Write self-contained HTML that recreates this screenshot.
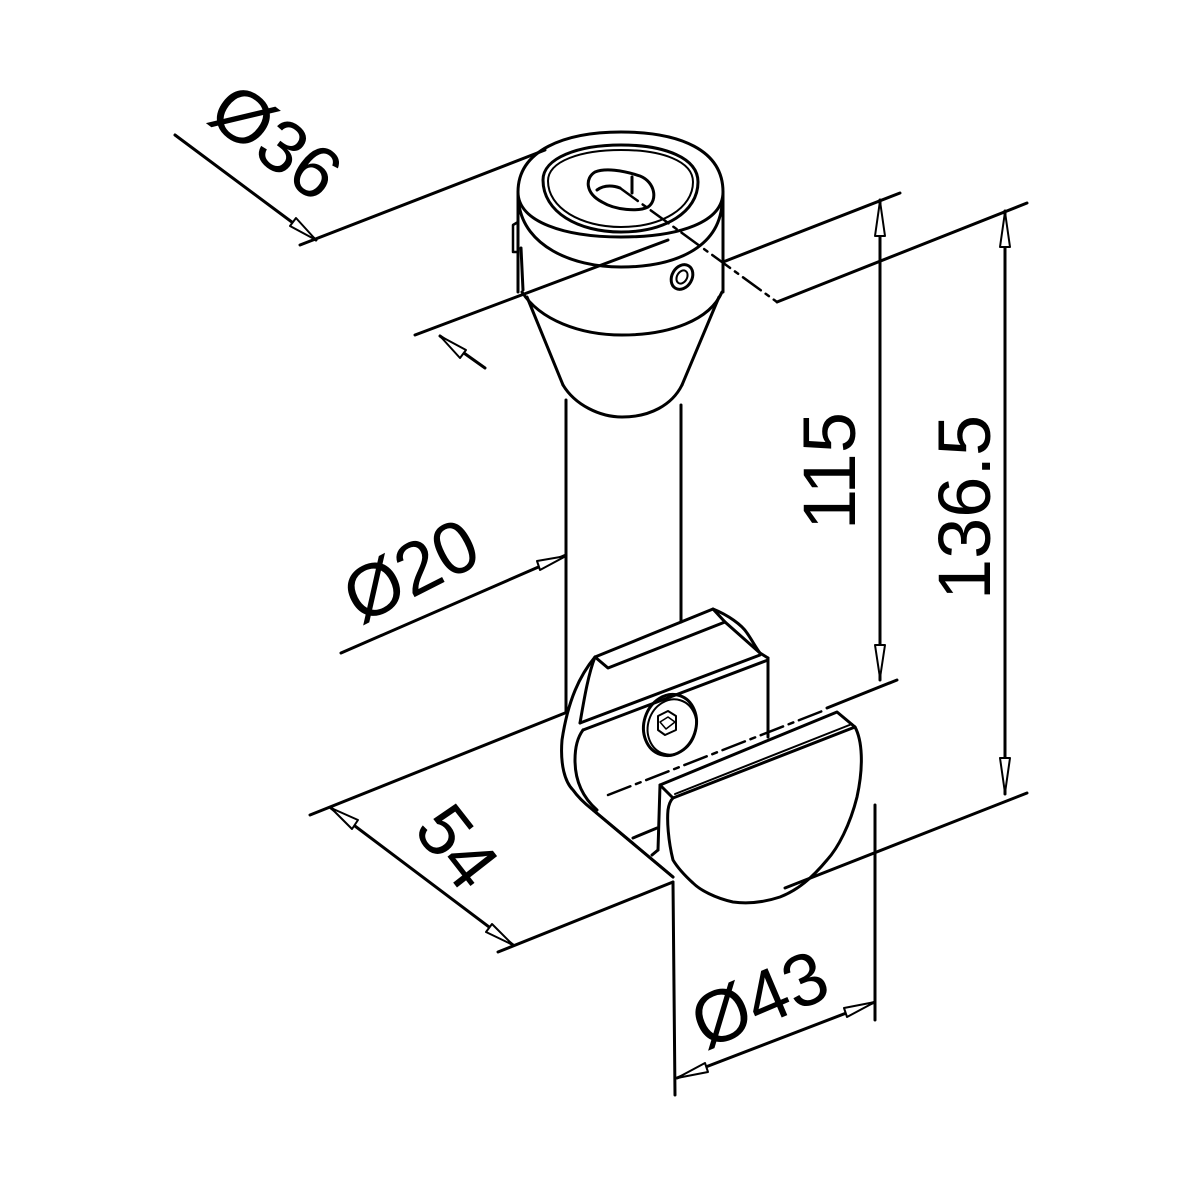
<!DOCTYPE html>
<html><head><meta charset="utf-8"><style>
html,body{margin:0;padding:0;background:#fff;}
svg{display:block;}
text{font-family:"DejaVu Sans ExtraLight","Liberation Sans",sans-serif;font-size:74px;fill:#000;stroke:none;}
</style></head><body>
<svg width="1200" height="1200" viewBox="0 0 1200 1200" xmlns="http://www.w3.org/2000/svg">
<g fill="none" stroke="#000" stroke-width="3" stroke-linejoin="round" stroke-linecap="round">
<!-- Ø36 dimension -->
<line x1="175" y1="135" x2="316" y2="240"/>
<line x1="300" y1="245" x2="545" y2="150"/>
<polygon points="316,240 290,226 296,218" fill="#fff" stroke-width="2"/>
<line x1="415" y1="335" x2="668" y2="240"/>
<line x1="440" y1="336" x2="485" y2="368"/>
<polygon points="440,336 466,350 460,358" fill="#fff" stroke-width="2"/>
<text transform="translate(205,120) rotate(37)">Ø36</text>

<!-- top cap -->
<path d="M518,192 C518,150 565,132 621,132 C680,132 723,150 723,192 C723,222 680,237 621,237 C565,237 518,222 518,192 Z"/>
<path d="M519,205 C525,245 570,267 621,267 C675,267 718,248 722,205"/>
<path d="M543,180 C543,158 578,145 621,145 C665,145 698,158 698,182 C698,212 665,232 621,232 C578,232 543,212 543,180 Z"/>
<path d="M548,181 C548,161 581,150 621,150 C662,150 693,161 693,182 C693,208 662,227 621,227 C581,227 548,208 548,181 Z" stroke-width="2"/>
<path d="M595,172 C605,168 622,170 640,176 C655,182 658,200 648,207 C638,212 615,210 602,202 C585,193 585,178 595,172 Z"/>
<path d="M597,190 C605,184 615,186 620,188"/>
<line x1="632" y1="177" x2="632" y2="193"/>
<line x1="518" y1="192" x2="518" y2="292"/>
<line x1="723" y1="192" x2="723" y2="292"/>
<path d="M513,225 L518,222 L518,252 L513,252 Z" stroke-width="2.5"/>
<line x1="521" y1="248" x2="523" y2="290"/>
<ellipse cx="682" cy="277" rx="10" ry="13" transform="rotate(30 682 277)"/>
<ellipse cx="682" cy="277" rx="5" ry="7" transform="rotate(30 682 277)" stroke-width="2"/>
<path d="M522,292 C540,320 580,335 622,335 C670,335 710,320 722,292"/>
<!-- cone -->
<path d="M527,297 L563,385"/>
<path d="M719,297 L682,385"/>
<path d="M563,385 C575,405 600,417 622,417 C650,417 672,405 682,385"/>
<!-- rod -->
<line x1="566" y1="400" x2="566" y2="712"/>
<line x1="681" y1="405" x2="681" y2="622"/>

<!-- centerline dashed -->
<path d="M620,188 L777,302" stroke-dasharray="22,6,4,6" stroke-width="2.5"/>
<!-- 115 / 136.5 extensions -->
<line x1="777" y1="302" x2="1027" y2="203"/>
<line x1="723" y1="262" x2="900" y2="193"/>
<line x1="880" y1="200" x2="880" y2="680"/>
<polygon points="880,201 875,236 885,236" fill="#fff" stroke-width="2"/>
<polygon points="880,678 875,645 885,645" fill="#fff" stroke-width="2"/>
<line x1="1005" y1="211" x2="1005" y2="794"/>
<polygon points="1005,212 1000,247 1010,247" fill="#fff" stroke-width="2"/>
<polygon points="1005,793 1000,758 1010,758" fill="#fff" stroke-width="2"/>
<line x1="897" y1="680" x2="827" y2="708"/>
<line x1="1027" y1="793" x2="785" y2="888"/>
<text transform="translate(855,530) rotate(-90)">115</text>
<text transform="translate(990,600) rotate(-90)">136.5</text>

<!-- Ø20 -->
<line x1="341" y1="653" x2="566" y2="555"/>
<polygon points="566,556 540,570 537,561" fill="#fff" stroke-width="2"/>
<text transform="translate(360,625) rotate(-27)">Ø20</text>

<!-- back clamp -->
<path d="M595,657 L713,609 L725,622 L608,668 Z"/>
<path d="M713,609 C728,615 742,625 747,633 C752,640 756,648 760,653 L768,658"/>
<path d="M725,622 L760,653"/>
<path d="M595,657 C588,675 584,700 580,723"/>
<line x1="580" y1="723" x2="760" y2="655"/>
<line x1="583" y1="730" x2="768" y2="660"/>
<path d="M595,657 C580,675 568,700 562,740 C560,765 565,782 573,790 C580,800 588,806 593,810 L673,877"/>
<path d="M583,730 C577,738 575,750 575,760 C575,777 580,795 597,810"/>
<line x1="768" y1="658" x2="768" y2="737"/>
<ellipse cx="670" cy="725" rx="26" ry="31" transform="rotate(18 670 725)"/>
<ellipse cx="672" cy="727" rx="24" ry="28" transform="rotate(18 672 727)" stroke-width="2"/>
<polygon points="658,716 668,711 676,716 676,730 665,735 658,730" stroke-width="2"/>
<polygon points="660,722 668,717 675,722 666,729" stroke-width="1.5"/>
<line x1="633" y1="838" x2="657" y2="828"/>
<!-- centerline lower -->
<path d="M608,795 L825,710" stroke-dasharray="24,6,5,6" stroke-width="2.5"/>
<!-- front half disc -->
<path d="M660,785 L837,712 L855,727 L673,798 Z"/>
<line x1="675" y1="794" x2="852" y2="724" stroke-width="2"/>
<path d="M855,727 C862,740 864,765 857,797 C850,825 838,848 827,860 C812,878 798,890 780,897 C765,902 748,904 733,902 C715,898 700,890 693,883 C682,873 676,865 673,860 C668,840 667,820 668,810 C669,803 671,800 673,798"/>
<line x1="660" y1="785" x2="658" y2="850"/>
<path d="M658,850 L652,855"/>
<path d="M593,810 L673,877"/>

<!-- 54 -->
<line x1="310" y1="815" x2="565" y2="713"/>
<line x1="498" y1="952" x2="673" y2="882"/>
<line x1="331" y1="808" x2="513" y2="945"/>
<polygon points="331,808 358,820 352,829" fill="#fff" stroke-width="2"/>
<polygon points="513,945 486,932 492,924" fill="#fff" stroke-width="2"/>
<text transform="translate(412,830) rotate(52)">54</text>

<!-- Ø43 -->
<line x1="673" y1="882" x2="675" y2="1095"/>
<line x1="875" y1="805" x2="875" y2="1020"/>
<line x1="677" y1="1078" x2="875" y2="1002"/>
<polygon points="677,1078 705,1063 708,1072" fill="#fff" stroke-width="2"/>
<polygon points="875,1002 847,1017 844,1008" fill="#fff" stroke-width="2"/>
<text transform="translate(705,1050) rotate(-23)">Ø43</text>
</g>
</svg>
</body></html>
